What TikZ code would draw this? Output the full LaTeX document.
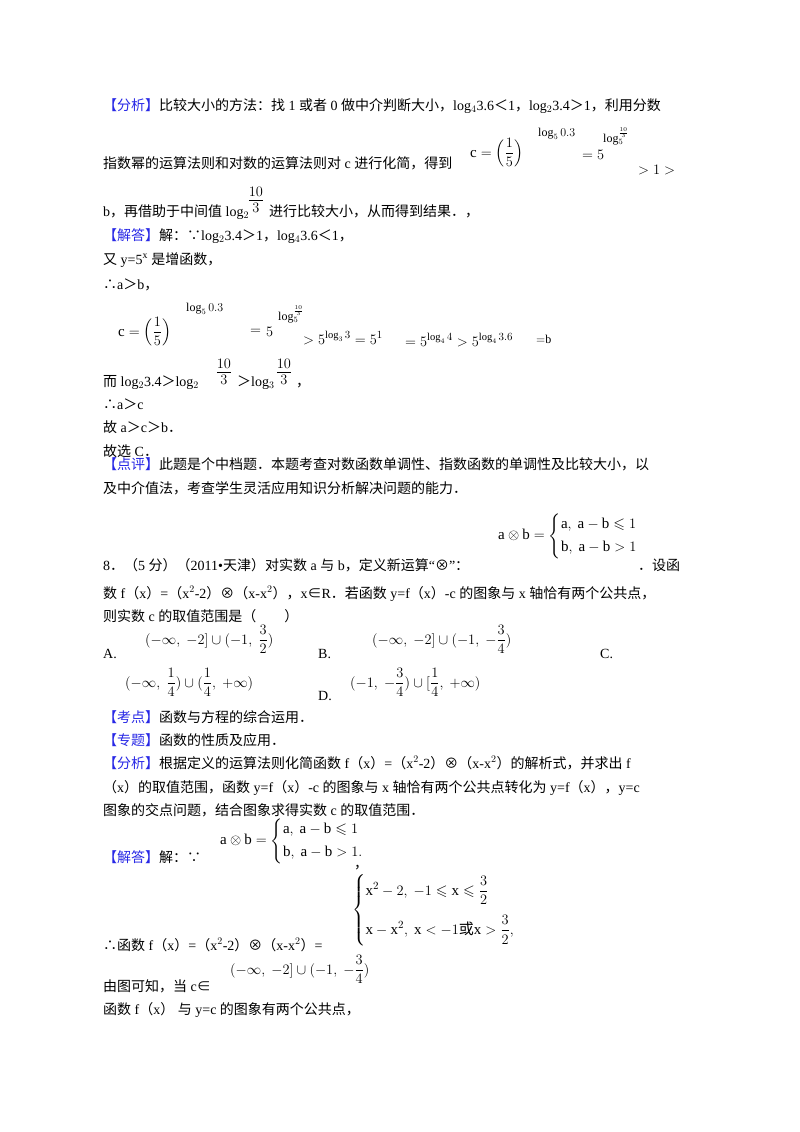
\documentclass[tikz,border=0pt]{standalone}
\usepackage{amsmath,amssymb}
\usepackage{fontspec}
\setmainfont{Liberation Serif}
\newfontfamily\cjk{Noto Sans CJK SC}
\newcount\cc
\newXeTeXintercharclass\cjkcls
\def\setcls#1#2{\cc=#1 \loop\XeTeXcharclass\cc=\cjkcls \ifnum\cc<#2 \advance\cc 1 \repeat}
\setcls{"3000}{"303F}
\setcls{"4E00}{"9FFF}
\setcls{"FF00}{"FFEF}
\setcls{"2234}{"2235}
\XeTeXcharclass"2297=\cjkcls
\XeTeXcharclass"2208=\cjkcls
\XeTeXinterchartokenstate=1
\XeTeXinterchartoks 0 \cjkcls={\cjk}
\XeTeXinterchartoks 4095 \cjkcls={\cjk}
\XeTeXinterchartoks \cjkcls 0={\rmfamily}
\XeTeXinterchartoks \cjkcls 4095={\rmfamily}
\definecolor{lb}{RGB}{40,40,230}
\newcommand\fs{\fontsize{14}{16}\selectfont}
\newcommand\lbl[1]{\textcolor{lb}{\cjk #1}\cjk}
\begin{document}
\begin{tikzpicture}[x=1pt,y=-1pt,t/.style={anchor=base west,inner sep=0,font=\fs},
m/.style={anchor=base west,inner sep=0,font=\fontsize{15}{17}\selectfont},
sm/.style={anchor=base west,inner sep=0,font=\fontsize{12}{14}\selectfont},
fr/.style={anchor=center,inner sep=0,font=\fontsize{20}{22}\selectfont},
cs/.style={anchor=west,inner sep=0,font=\fontsize{15}{17}\selectfont}]
\useasboundingbox (0,0) rectangle (800,1132);
\fill[white] (0,0) rectangle (800,1132);
\node[t] (l1) at (103,110) {\lbl{【分析】}比较大小的方法：找 1 或者 0 做中介判断大小，log$_4$3.6＜1，log$_2$3.4＞1，利用分数};
\node[t] (l2) at (103,168) {指数幂的运算法则和对数的运算法则对 c 进行化简，得到};
\node[m] (f1) at (470,157) {$\mathrm{c}=\Big(\dfrac{1}{5}\Big)$};
\node[sm] (f1e) at (538,136) {$\log_5 0.3$};
\node[m] (f1b) at (582,159) {$=5$};
\node[sm] (f1c) at (603,142) {$\log_5^{\scriptstyle\frac{10}{3}}$};
\node[m] (f1d) at (638,174) {$>1>$};
\node[t] (l3) at (103,216) {b，再借助于中间值 log$_2$};
\node[fr] (fr1) at (256,200) {$\frac{10}{3}$};
\node[t] (l3b) at (269,216) {进行比较大小，从而得到结果．，};
\node[t] (l4) at (103,240) {\lbl{【解答】}解：∵log$_2$3.4＞1，log$_4$3.6＜1，};
\node[t] (l5) at (103,264) {又 y=5$^{\mathrm x}$ 是增函数，};
\node[t] (l6) at (103,289) {∴a＞b，};
\node[m] (g1) at (118,336) {$\mathrm{c}=\Big(\dfrac{1}{5}\Big)$};
\node[sm] (g2) at (186,311) {$\log_5 0.3$};
\node[m] (g3) at (250,334) {$=$};
\node[m] (g4) at (266,336) {$5$};
\node[sm] (g5) at (278,320) {$\log_5^{\scriptstyle\frac{10}{3}}$};
\node[m] (g6) at (303,344) {$>5^{\log_3 3}=5^1$};
\node[m] (g7) at (405,346) {$=5^{\log_4 4}>5^{\log_4 3.6}$};
\node[sm] (g8) at (536,343) {$=$b};
\node[t] (l7) at (103,386) {而 log$_2$3.4＞log$_2$};
\node[fr] (fr2) at (224,372) {$\frac{10}{3}$};
\node[t] (l7b) at (237,386) {＞log$_3$};
\node[fr] (fr3) at (284,372) {$\frac{10}{3}$};
\node[t] (l7c) at (296,386) {，};
\node[t] (l8) at (103,409) {∴a＞c};
\node[t] (l9) at (103,432) {故 a＞c＞b．};
\node[t] (l10) at (103,456) {故选 C．};
\node[t] (l11) at (103,469) {\lbl{【点评】}此题是个中档题．本题考查对数函数单调性、指数函数的单调性及比较大小，以};
\node[t] (l12) at (103,493) {及中介值法，考查学生灵活应用知识分析解决问题的能力．};
\node[cs] (op) at (498,536) {$\mathrm{a}\otimes\mathrm{b}=\begin{cases}\mathrm{a},\ \mathrm{a}-\mathrm{b}\leqslant 1\\[2pt] \mathrm{b},\ \mathrm{a}-\mathrm{b}>1\end{cases}$};
\node[t] (q1) at (103,570) {8．（5 分）（2011•天津）对实数 a 与 b，定义新运算“⊗”：};
\node[t] (q1b) at (638,570) {．设函};
\node[t] (q2) at (103,598) {数 f（x）=（x$^2$-2）⊗（x-x$^2$），x∈R．若函数 y=f（x）-c 的图象与 x 轴恰有两个公共点，};
\node[t] (q3) at (103,621) {则实数 c 的取值范围是（\quad\quad ）};
\node[t] (oA) at (103,658) {A.};
\node[m] (fA) at (145,644) {$(-\infty,\ -2]\cup(-1,\ \dfrac{3}{2})$};
\node[t] (oB) at (318,658) {B.};
\node[m] (fB) at (372,644) {$(-\infty,\ -2]\cup(-1,\ -\dfrac{3}{4})$};
\node[t] (oC) at (600,658) {C.};
\node[m] (fC) at (125,687) {$(-\infty,\ \dfrac{1}{4})\cup(\dfrac{1}{4},\ +\infty)$};
\node[t] (oD) at (318,700) {D.};
\node[m] (fD) at (350,687) {$(-1,\ -\dfrac{3}{4})\cup[\dfrac{1}{4},\ +\infty)$};
\node[t] (k1) at (103,722) {\lbl{【考点】}函数与方程的综合运用．};
\node[t] (k2) at (103,745) {\lbl{【专题】}函数的性质及应用．};
\node[t] (k3) at (103,768) {\lbl{【分析】}根据定义的运算法则化简函数 f（x）=（x$^2$-2）⊗（x-x$^2$）的解析式，并求出 f};
\node[t] (k4) at (103,792) {（x）的取值范围，函数 y=f（x）-c 的图象与 x 轴恰有两个公共点转化为 y=f（x），y=c};
\node[t] (k5) at (103,815) {图象的交点问题，结合图象求得实数 c 的取值范围．};
\node[cs] (op2) at (220,841) {$\mathrm{a}\otimes\mathrm{b}=\begin{cases}\mathrm{a},\ \mathrm{a}-\mathrm{b}\leqslant 1\\[2pt] \mathrm{b},\ \mathrm{a}-\mathrm{b}>1.\end{cases}$};
\node[t] (s1) at (103,862) {\lbl{【解答】}解：∵};
\node[t] (s1b) at (354,868) {，};
\node[t] (s2) at (103,950) {∴函数 f（x）=（x$^2$-2）⊗（x-x$^2$）=};
\node[cs] (pw) at (352,910) {$\begin{cases}\mathrm{x}^2-2,\ -1\leqslant \mathrm{x}\leqslant\dfrac{3}{2}\\[14pt] \mathrm{x}-\mathrm{x}^2,\ \mathrm{x}<-1\text{\cjk 或}\mathrm{x}>\dfrac{3}{2},\end{cases}$};
\node[m] (fE) at (230,974) {$(-\infty,\ -2]\cup(-1,\ -\dfrac{3}{4})$};
\node[t] (s3) at (103,991) {由图可知，当 c∈};
\node[t] (s4) at (103,1014) {函数 f（x） 与 y=c 的图象有两个公共点，};
\end{tikzpicture}
\end{document}
